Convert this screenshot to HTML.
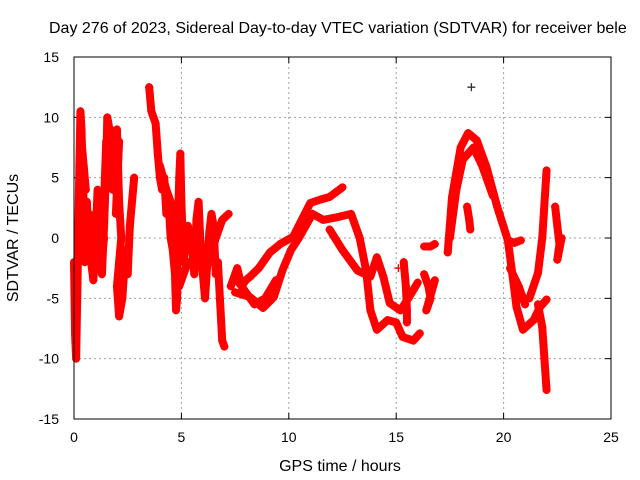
<!DOCTYPE html>
<html><head><meta charset="utf-8"><style>
html,body{margin:0;padding:0;background:#fff;}
svg{display:block;font-family:"Liberation Sans",Arial,sans-serif;}
</style></head><body>
<svg id="chart" width="640" height="480">
<text x="49" y="33" font-size="16">Day 276 of 2023, Sidereal Day-to-day VTEC variation (SDTVAR) for receiver bele</text>
<g id="grid"></g>
<g id="ticks"></g>
<g id="series"></g>
<rect x="74" y="57" width="537" height="362" fill="none" stroke="#000" stroke-width="1"/>
<text x="340" y="471" font-size="16" text-anchor="middle">GPS time / hours</text>
<text x="18" y="238" font-size="16" text-anchor="middle" transform="rotate(-90 18 238)">SDTVAR / TECUs</text>
</svg>
<script>
const xTicks=[0,5,10,15,20,25];
const yTicks=[-15,-10,-5,0,5,10,15];
const track1=[[0.0,-2],[0.05,-8],[0.1,-10],[0.15,-5],[0.2,0],[0.25,6],[0.3,10.5],[0.35,9],[0.4,5],[0.5,1],[0.6,-1],[0.7,2],[0.8,-2],[0.9,-3.5],[1.0,0],[1.1,4],[1.2,-1],[1.3,-3],[1.4,1],[1.5,6],[1.55,10],[1.65,9],[1.7,6],[1.8,8],[1.9,5],[2.0,9],[2.1,3],[2.2,0],[2.0,-4],[2.1,-6.5],[2.25,-5],[2.4,-1],[2.5,-3],[2.6,1],[2.8,5]];
const track1b=[[0.2,-1],[0.4,2],[0.5,-2],[0.6,3],[0.7,-1],[0.8,1],[0.9,-2],[1.0,2],[1.1,-1],[1.2,1],[1.3,-1.5],[1.4,0]];
const track1c=[[1.4,3],[1.5,8],[1.6,5],[1.7,9],[1.8,4],[1.9,7],[2.0,6],[2.1,8],[1.95,2]];
const track1d=[[0.3,2],[0.35,8],[0.45,6],[0.55,4]];
const track2=[[3.5,12.5],[3.6,10.5],[3.8,9.5],[3.9,7],[4.0,5],[4.1,4],[4.2,5],[4.3,2],[4.4,3],[4.5,0],[4.6,-1],[4.7,-3],[4.75,-6],[4.8,-5],[4.85,2],[4.9,5],[4.95,7],[5.0,3],[5.1,-2],[5.2,0],[5.3,1],[5.5,-1],[5.6,-3],[5.7,1.5],[5.8,3],[5.9,-1],[6.0,-3],[6.1,-5],[6.3,0.5],[6.4,2],[6.5,1],[6.6,-3],[6.7,-2],[6.9,-8.5],[7.0,-9]];
const track2b=[[4.0,6],[4.3,4],[4.5,3],[4.6,1],[4.7,-2],[4.9,-4],[5.1,-3],[5.3,-2]];
const track3=[[6.3,-2],[6.6,0],[6.9,1.5],[7.2,2]];
const track4=[[7.3,-4],[7.6,-2.5],[7.8,-4],[8.0,-3.5],[8.2,-3.2],[8.6,-2.5],[9.12,-1.2],[9.6,-0.5],[10.2,0.1],[10.6,1.5],[11.0,2.9],[11.5,3.2],[11.9,3.4],[12.5,4.2]];
const track5=[[7.5,-4.5],[8.2,-4.9],[8.8,-5.8],[9.3,-4.9],[9.7,-2.7],[10.1,-1],[10.5,0.1],[11.1,2],[11.6,1.5],[12.2,1.7],[12.9,2],[13.3,0],[13.6,-2.7],[13.8,-6],[14.1,-7.6],[14.6,-6.8],[15.0,-7],[15.3,-8.2],[15.8,-8.5],[16.1,-7.9]];
const track5b=[[7.6,-3.5],[8.0,-4.5],[8.4,-5.5],[8.9,-5],[9.4,-3.5]];
const track6=[[11.9,0.7],[12.5,-1],[13.2,-2.7],[13.8,-3.2],[14.1,-1.6],[14.4,-3.2],[14.7,-5.4],[15.2,-6],[15.6,-4.9],[16.0,-3.7]];
const track7=[[15.35,-2],[15.45,-4],[15.5,-6],[15.5,-7]];
const track8=[[16.3,-3],[16.5,-4],[16.6,-5],[16.4,-6],[16.8,-3.5]];
const track9=[[16.3,-0.7],[16.6,-0.7],[16.8,-0.5]];
const track10=[[17.4,-1.2],[17.6,3.4],[18.0,7.5],[18.35,8.7],[18.75,8.1],[19.2,5.9],[19.7,2.6],[20.2,-0.2],[20.4,-2.9],[20.6,-5.7],[20.9,-7.6],[21.4,-6.8],[21.7,-5.7],[22.0,-5.1]];
const track10b=[[17.5,0],[17.8,4],[18.1,6.5],[18.6,7.5],[19.0,6],[19.5,3.5]];
const track11=[[20.2,-0.2],[20.5,-0.4],[20.8,-0.2]];
const track12=[[20.3,-2.5],[20.7,-4],[21.0,-5.5]];
const track13=[[21.2,-5],[21.6,-2.9],[21.8,0],[22.0,5.6]];
const track14=[[21.6,-5.5],[21.8,-7.4],[21.9,-10],[22.0,-12.6]];
const track15=[[22.4,2.6],[22.5,1],[22.6,-0.5],[22.5,-1.8],[22.7,0]];
const track16=[[18.3,2.6],[18.4,1.5],[18.45,0.7]];
const redSingles=[[3.5,12.5],[15.1,-2.5]];
const blackSingles=[[18.5,12.5]];
const tracks=[track1,track1b,track1c,track1d,track2,track2b,track3,track4,track5,track5b,track6,track7,track8,track9,track10,track10b,track11,track12,track13,track14,track15,track16];

const NS="http://www.w3.org/2000/svg";
const X0=74,X1=611,Y0=419,Y1=57;
const xs=t=>X0+(t-0)/(25-0)*(X1-X0);
const ys=v=>Y0-(v+15)/30*(Y0-Y1);
const grid=document.getElementById('grid'),ticks=document.getElementById('ticks'),ser=document.getElementById('series');
function mk(tag,attrs,parent){const e=document.createElementNS(NS,tag);for(const k in attrs)e.setAttribute(k,attrs[k]);parent.appendChild(e);return e;}
xTicks.forEach(t=>{const x=xs(t);
 if(t>0&&t<25){const g=mk('line',{x1:x,x2:x,y1:Y1,y2:Y0,stroke:'#a0a0a0','stroke-dasharray':'2,3'},grid);
 
 }
 mk('line',{x1:x,x2:x,y1:Y0,y2:Y0-6,stroke:'#000'},ticks);
 mk('line',{x1:x,x2:x,y1:Y1,y2:Y1+6,stroke:'#000'},ticks);
 const l=mk('text',{x:x,y:Y0+23,'font-size':14,'text-anchor':'middle'},ticks);l.textContent=t;
 
 });
yTicks.forEach(v=>{const y=ys(v);
 if(v>-15&&v<15){const g=mk('line',{x1:X0,x2:X1,y1:y,y2:y,stroke:'#a0a0a0','stroke-dasharray':'2,3'},grid);
 
 }
 mk('line',{x1:X0,x2:X0+6,y1:y,y2:y,stroke:'#000'},ticks);
 mk('line',{x1:X1,x2:X1-6,y1:y,y2:y,stroke:'#000'},ticks);
 const l=mk('text',{x:X0-15,y:y+5,'font-size':14,'text-anchor':'end'},ticks);l.textContent=v;
 
 });
function plus(t,v,col,parent){const x=xs(t),y=ys(v);
 const p=mk('path',{d:`M${x-4},${y}h8M${x},${y-4}v8`,stroke:col,'stroke-width':1.3,fill:'none'},parent);
 
 }
tracks.forEach(tr=>{
 const pl=mk('polyline',{points:tr.map(p=>xs(p[0])+','+ys(p[1])).join(' '),fill:'none',stroke:'#ff0000','stroke-width':8,'stroke-linejoin':'round','stroke-linecap':'round'},ser);
 
 
 tr.forEach(p=>plus(p[0],p[1],'#ff0000',ser));});
redSingles.forEach(p=>plus(p[0],p[1],'#ff0000',ser));
blackSingles.forEach(p=>plus(p[0],p[1],'#333333',ser));
</script>
</body></html>
